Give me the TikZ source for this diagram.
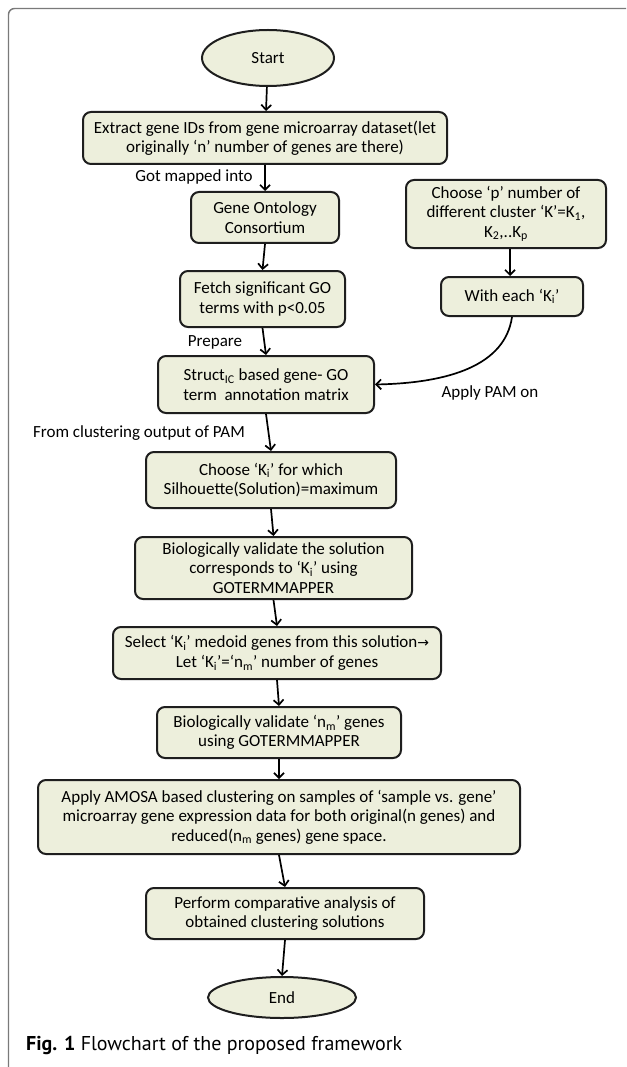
\documentclass[tikz,border=0pt]{standalone}
\usepackage{fontspec}
\setmainfont{Carlito}
\newfontfamily\capfont{PT Sans}
\newfontfamily\djv{DejaVu Sans}
\usetikzlibrary{shapes.geometric,arrows.meta}
\definecolor{boxfill}{HTML}{EDEFDC}
\definecolor{boxline}{HTML}{1E1E1E}
\definecolor{framegray}{HTML}{7A7A7A}
\tikzset{
  box/.style={draw=boxline, fill=boxfill, line width=2pt, rounded corners=8pt,
    align=center, inner sep=2pt, font=\fontsize{17}{19.5}\selectfont},
  oval/.style={draw=boxline, fill=boxfill, line width=2pt, ellipse, inner sep=0pt,
    font=\fontsize{17}{19.5}\selectfont},
  arr/.style={draw=black, line width=1.7pt, -{Straight Barb[length=5pt,width=10pt,line width=1.7pt]}},
  lbl/.style={font=\fontsize{17}{19.5}\selectfont, inner sep=0pt}
}
\begin{document}
\begin{tikzpicture}[x=1pt,y=-1pt]
\useasboundingbox (0,0) rectangle (626,1067);
\fill[white] (0,0) rectangle (626,1067);
% frame
\draw[framegray, line width=1.4pt, rounded corners=6pt] (8.5,1067) -- (8.5,8.5) -- (626,8.5);

\node[oval, minimum width=132, minimum height=56] (start) at (268,58) {Start};
\node[box, minimum width=364, minimum height=52] (extract) at (265,138)
  {Extract gene IDs from gene microarray dataset(let\\originally ‘n’ number of genes are there)};
\node[box, minimum width=148, minimum height=51] (go) at (265,217.5)
  {Gene Ontology\\Consortium};
\node[box, minimum width=200, minimum height=68] (choosep) at (506,214)
  {Choose ‘p’ number of\\different cluster ‘K’=K\textsubscript{1},\\K\textsubscript{2},..K\textsubscript{p}};
\node[box, minimum width=165, minimum height=56] (fetch) at (262.5,299)
  {Fetch significant GO\\terms with p<0.05};
\node[box, minimum width=142, minimum height=39] (with) at (512,296.5)
  {With each ‘K\textsubscript{i}’};
\node[box, minimum width=216, minimum height=57] (struct) at (266,384.5)
  {Struct\textsubscript{IC} based gene- GO\\term\ \ annotation matrix};
\node[box, minimum width=250, minimum height=56] (chooseki) at (271,480)
  {Choose ‘K\textsubscript{i}’ for which\\Silhouette(Solution)=maximum};
\node[box, minimum width=277, minimum height=62] (bioval) at (273.5,568)
  {Biologically validate the solution\\corresponds to ‘K\textsubscript{i}’ using\\GOTERMMAPPER};
\node[box, minimum width=328, minimum height=52] (select) at (277,653)
  {Select ‘K\textsubscript{i}’ medoid genes from this solution{\djv\fontsize{14}{16}\selectfont →}\\Let ‘K\textsubscript{i}’=‘n\textsubscript{m}’ number of genes};
\node[box, minimum width=244, minimum height=51] (bionm) at (279,732.5)
  {Biologically validate ‘n\textsubscript{m}’ genes\\using GOTERMMAPPER};
\node[box, minimum width=482, minimum height=74] (amosa) at (279,817)
  {Apply AMOSA based clustering on samples of ‘sample vs. gene’\\microarray gene expression data for both original(n genes) and\\reduced(n\textsubscript{m} genes) gene space.};
\node[box, minimum width=278, minimum height=51] (perform) at (285,913.5)
  {Perform comparative analysis of\\obtained clustering solutions};
\node[oval, minimum width=148, minimum height=41] (end) at (282,997.5) {End};

% labels
\node[lbl] (lmap) at (194,177) {Got mapped into};
\node[lbl] (lprep) at (215,342) {Prepare};
\node[lbl] (lpam) at (490,393) {Apply PAM on};
\node[lbl] (lclus) at (139,433) {From clustering output of PAM};

% arrows
\draw[arr] (start) -- (extract);
\draw[arr] (extract.south) -- (go.north);
\draw[arr] (go.south) -- (fetch.north);
\draw[arr] ([xshift=4]choosep.south) -- ([xshift=-2]with.north);
\draw[arr] (fetch.south) -- (struct.north);
\draw[arr] (with.south) .. controls (505,365) and (450,383) .. (struct.east);
\draw[arr] (struct.south) -- (chooseki.north);
\draw[arr] (chooseki.south) -- (bioval.north);
\draw[arr] (bioval.south) -- (select.north);
\draw[arr] (select.south) -- (bionm.north);
\draw[arr] (bionm.south) -- (amosa.north);
\draw[arr] (amosa.south) -- (perform.north);
\draw[arr] (perform.south) -- (end.north);

% caption
\node[anchor=west, inner sep=0pt, font=\capfont\fontsize{20}{24}\selectfont] (cap) at (26,1045)
  {\textbf{Fig. 1} Flowchart of the proposed framework};
\end{tikzpicture}
\end{document}
